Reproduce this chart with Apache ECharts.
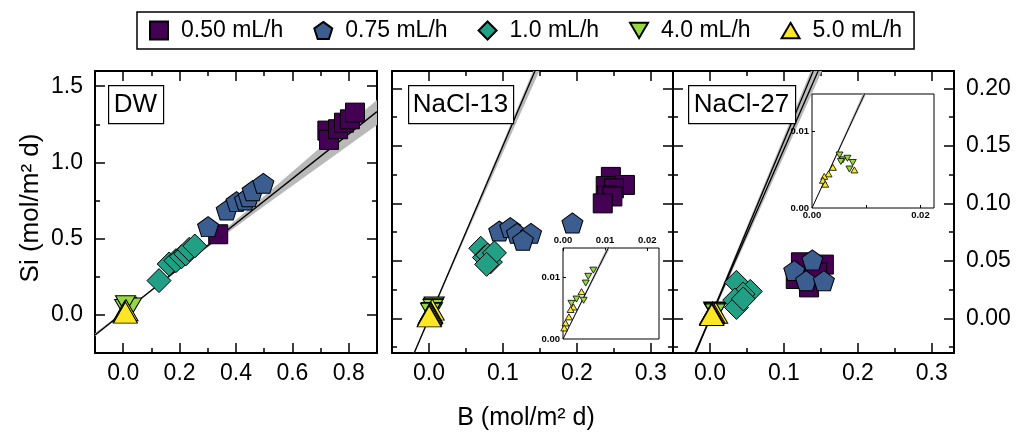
<!DOCTYPE html>
<html><head><meta charset="utf-8">
<script src="https://cdn.jsdelivr.net/npm/echarts@6/dist/echarts.min.js"></script>
<style>html,body{margin:0;padding:0;background:#fff}#c{width:1018px;height:435px}</style>
</head><body><div id="c"></div>
<script>
// ---------- data ----------
const seriesNames = ['0.50 mL/h', '0.75 mL/h', '1.0 mL/h', '4.0 mL/h', '5.0 mL/h'];
const panelNames = ['DW', 'NaCl-13', 'NaCl-27'];

// DW panel  [B, Si]
const dw050 = [[0.724,1.209],[0.730,1.148],[0.762,1.218],[0.783,1.261],[0.804,1.283],[0.822,1.327],[0.337,0.529]];
const dw075 = [[0.301,0.579],[0.367,0.688],[0.402,0.743],[0.432,0.754],[0.445,0.775],[0.459,0.815],[0.497,0.863]];
const dw100 = [[0.127,0.225],[0.163,0.334],[0.187,0.356],[0.207,0.382],[0.222,0.400],[0.234,0.430],[0.254,0.452]];
const dw400 = [[0.005,0.045],[0.012,0.060],[0.020,0.050],[0.030,0.055],[0.008,0.070]];
const dw500 = [[0.005,0.022],[0.010,0.030],[0.008,0.015]];

// NaCl-13 panel
const n13_050 = [[0.246,0.123],[0.265,0.116],[0.239,0.115],[0.250,0.113],[0.241,0.107],[0.248,0.106],[0.235,0.100]];
const n13_075 = [[0.095,0.076],[0.110,0.079],[0.119,0.074],[0.138,0.074],[0.127,0.068],[0.194,0.083]];
const n13_100 = [[0.070,0.061],[0.075,0.053],[0.0795,0.055],[0.083,0.049],[0.0885,0.057],[0.078,0.047]];
const n13_400 = [[0.0072,0.0112],[0.0060,0.0102],[0.0054,0.0091],[0.0049,0.0063],[0.0032,0.0065],[0.0020,0.0058]];
const n13_500 = [[0.0044,0.0077],[0.0025,0.0052],[0.0018,0.0048],[0.0014,0.0036],[0.0006,0.0026],[0.0003,0.0018]];

// NaCl-27 panel
const n27_050 = [[0.123,0.0488],[0.154,0.0468],[0.134,0.027],[0.116,0.0343],[0.145,0.040]];
const n27_075 = [[0.114,0.0416],[0.1385,0.0509],[0.130,0.0328],[0.154,0.0328]];
const n27_100 = [[0.0358,0.0314],[0.0545,0.0235],[0.0447,0.0212],[0.0335,0.016],[0.0358,0.0096],[0.045,0.017]];
const n27_400 = [[0.00507,0.00688],[0.00569,0.00625],[0.00654,0.00646],[0.00532,0.00604],[0.00752,0.00591],[0.0069,0.00506]];
const n27_500 = [[0.00782,0.00494],[0.00385,0.00528],[0.00305,0.00443],[0.00226,0.0041],[0.00202,0.0036],[0.00244,0.00309]];

// regression lines and confidence bands
const p1Line = [[-0.1,-0.1315],[0.9,1.3335]];
const p1BandX = [-0.1, 0.1, 0.3, 0.5, 0.7, 0.9];
const p1BandLo = [-0.142, 0.157, 0.442, 0.715, 0.980, 1.245];
const p1BandHi = [-0.120, 0.166, 0.467, 0.780, 1.100, 1.410];

const p2Line = [[-0.03,-0.045],[0.16,0.240]];
const p2BandX = [-0.03, 0.05, 0.16];
const p2BandLo = [-0.0458, 0.0720, 0.2304];
const p2BandHi = [-0.0432, 0.0764, 0.2445];

const p3LineA = [[-0.03,-0.0462],[0.16,0.2464]];
const p3LineB = [[-0.03,-0.0441],[0.16,0.2352]];
const p3BandX = [-0.03, 0.16];
const p3BandALo = [-0.0473, 0.2400];
const p3BandAHi = [-0.0450, 0.2520];
const p3BandBLo = [-0.0450, 0.2272];
const p3BandBHi = [-0.0426, 0.2400];

const in2Line = [[0,0],[0.0125,0.0172]];
const in2BandX = [0, 0.0125];
const in2BandLo = [0, 0.0166];
const in2BandHi = [0, 0.0179];

const in3Line = [[0,0],[0.0110,0.0168]];
const in3BandX = [0, 0.0110];
const in3BandLo = [0, 0.0163];
const in3BandHi = [0, 0.0174];

// axis ranges and ticks
const p1XRange = [-0.1, 0.9], p1YRange = [-0.25, 1.6];
const p1XMajor = [0, 0.2, 0.4, 0.6, 0.8], p1XMinor = [0.1, 0.3, 0.5, 0.7];
const p1YMajor = [0, 0.5, 1.0, 1.5], p1YMinor = [0.25, 0.75, 1.25];
const p23XRange = [-0.05, 0.33], p23YRange = [-0.03, 0.215];
const p23XMajor = [0, 0.1, 0.2, 0.3], p23XMinor = [0.05, 0.15, 0.25];
const p23YMajor = [0, 0.05, 0.10, 0.15, 0.20], p23YMinor = [-0.025, 0.025, 0.075, 0.125, 0.175];
const in2XRange = [0, 0.0228], in2YRange = [0, 0.0148];
const in3XRange = [0, 0.0225], in3YRange = [0, 0.0148];
const in2XLabels = [0, 0.01, 0.02], in2YLabels = [0, 0.01];
const in3XLabels = [0, 0.02], in3XTicks = [0.01, 0.02], in3YLabels = [0, 0.01];

// ---------- styling ----------
const FONT = '"Liberation Sans", Arial, Helvetica, sans-serif';
const colors = ['#440154', '#3b5d90', '#22a085', '#95d840', '#fde725'];
const PENT = 'path://M10,0 L19.5,6.9 L15.9,18.1 L4.1,18.1 L0.5,6.9 Z';
const DTRI = 'path://M0,0 L20,0 L10,17 Z';
const UTRI = 'path://M10,0 L20,17 L0,17 Z';
const symbols = ['rect', PENT, 'diamond', DTRI, UTRI];
const bigSizes = [19, [21, 20], [24, 24], [20, 17], [24, 21]];
const smallSizes = [6, 6, 6, [7, 6], [7, 6]];

const grids = [
  {left: 95, top: 71, width: 282, height: 282},
  {left: 392, top: 71, width: 281, height: 282},
  {left: 673, top: 71, width: 281, height: 282},
  {left: 563, top: 248, width: 96, height: 91, show: true, backgroundColor: '#fff', borderColor: '#000', borderWidth: 1, z: 5},
  {left: 812, top: 94, width: 122, height: 114, show: true, backgroundColor: '#fff', borderColor: '#000', borderWidth: 1, z: 5}
];

const xAxes = [], yAxes = [];
function ax(list, grid, pos, range, ticks, len, labels, fmt, lineW, extra) {
  const a = {
    type: 'value', gridIndex: grid, position: pos, min: range[0], max: range[1],
    axisLine: {show: lineW > 0, onZero: false, lineStyle: {color: '#000', width: lineW || 1}},
    axisTick: {show: !!ticks, inside: true, length: len, customValues: ticks || undefined, lineStyle: {color: '#000', width: 1.5}},
    axisLabel: labels ? {show: true, customValues: labels, formatter: fmt, color: '#000', fontFamily: FONT, fontSize: 23, margin: 10} : {show: false},
    splitLine: {show: false}
  };
  if (extra) {
    if (extra.label) Object.assign(a.axisLabel, extra.label);
    if (extra.tick) Object.assign(a.axisTick, extra.tick);
    if (extra.z != null) a.z = extra.z;
  }
  list.push(a);
  return list.length - 1;
}
const f1 = v => v.toFixed(1), f2 = v => v.toFixed(2);

// main panels: returns indices of primary (bottom / left) axes
const mainIdx = [];
for (let g = 0; g < 3; g++) {
  const xr = g === 0 ? p1XRange : p23XRange, yr = g === 0 ? p1YRange : p23YRange;
  const xM = g === 0 ? p1XMajor : p23XMajor, xm = g === 0 ? p1XMinor : p23XMinor;
  const yM = g === 0 ? p1YMajor : p23YMajor, ym = g === 0 ? p1YMinor : p23YMinor;
  const xi = ax(xAxes, g, 'bottom', xr, xM, 10, xM, f1, 2, {label: {margin: 9}});
  ax(xAxes, g, 'bottom', xr, xm, 5, null, null, 0);
  ax(xAxes, g, 'top', xr, xM, 10, null, null, 2);
  ax(xAxes, g, 'top', xr, xm, 5, null, null, 0);
  const yi = ax(yAxes, g, 'left', yr, yM, 10, g === 0 ? yM : null, f1, 2, {label: {margin: 12}});
  ax(yAxes, g, 'left', yr, ym, 5, null, null, 0);
  ax(yAxes, g, 'right', yr, yM, 10, g === 2 ? yM : null, f2, 2, {label: {margin: 12}});
  ax(yAxes, g, 'right', yr, ym, 5, null, null, 0);
  mainIdx.push([xi, yi]);
}
// insets
const smallLbl = {fontSize: 9.5, fontWeight: 'bold', margin: 3};
const in2x = ax(xAxes, 3, 'top', in2XRange, in2XLabels, 3, in2XLabels, f2, 0, {label: smallLbl, tick: {lineStyle: {width: 1}}, z: 6});
const in2y = ax(yAxes, 3, 'left', in2YRange, [0.01], 3, in2YLabels, f2, 0, {label: smallLbl, tick: {lineStyle: {width: 1}}, z: 6});
const in3x = ax(xAxes, 4, 'bottom', in3XRange, in3XTicks, 3, in3XLabels, f2, 0, {label: Object.assign({}, smallLbl, {margin: 2}), tick: {lineStyle: {width: 1}}, z: 6});
const in3y = ax(yAxes, 4, 'left', in3YRange, [0.01], 3, in3YLabels, f2, 0, {label: smallLbl, tick: {lineStyle: {width: 1}}, z: 6});

// ---------- series ----------
const series = [];
function scatter(data, k, xi, yi, small) {
  series.push({
    type: 'scatter', name: seriesNames[k], data: data, xAxisIndex: xi, yAxisIndex: yi,
    symbol: symbols[k], symbolSize: small ? smallSizes[k] : bigSizes[k],
    itemStyle: {color: colors[k], borderColor: '#000', borderWidth: small ? 0.8 : 1, opacity: 1},
    z: small ? 9 : 4, silent: true, clip: true
  });
}
function line(data, xi, yi, z, w) {
  series.push({type: 'line', data: data, xAxisIndex: xi, yAxisIndex: yi, symbol: 'none', showSymbol: false,
    lineStyle: {color: '#000', width: w || 1.3}, silent: true, clip: true, z: z, animation: false});
}
function band(xs, lo, hi, xi, yi, z) {
  series.push({type: 'custom', xAxisIndex: xi, yAxisIndex: yi, clip: true, silent: true, z: z,
    data: [[xs[0], lo[0]]],
    renderItem: function (params, api) {
      const top = xs.map((x, i) => api.coord([x, hi[i]]));
      const bot = xs.map((x, i) => api.coord([x, lo[i]])).reverse();
      return {type: 'polygon', shape: {points: top.concat(bot)}, style: {fill: '#b9b9b9', stroke: null}};
    }});
}
// panel 1
band(p1BandX, p1BandLo, p1BandHi, mainIdx[0][0], mainIdx[0][1], 1);
line(p1Line, mainIdx[0][0], mainIdx[0][1], 2);
[dw050, dw075, dw100, dw400, dw500].forEach((d, k) => scatter(d, k, mainIdx[0][0], mainIdx[0][1]));
// panel 2
band(p2BandX, p2BandLo, p2BandHi, mainIdx[1][0], mainIdx[1][1], 1);
line(p2Line, mainIdx[1][0], mainIdx[1][1], 2);
[n13_050, n13_075, n13_100, n13_400, n13_500].forEach((d, k) => scatter(d, k, mainIdx[1][0], mainIdx[1][1]));
// panel 3
band(p3BandX, p3BandALo, p3BandAHi, mainIdx[2][0], mainIdx[2][1], 1);
band(p3BandX, p3BandBLo, p3BandBHi, mainIdx[2][0], mainIdx[2][1], 1);
line(p3LineA, mainIdx[2][0], mainIdx[2][1], 2);
line(p3LineB, mainIdx[2][0], mainIdx[2][1], 2);
[n27_050, n27_075, n27_100, n27_400, n27_500].forEach((d, k) => scatter(d, k, mainIdx[2][0], mainIdx[2][1]));
// inset 2
band(in2BandX, in2BandLo, in2BandHi, in2x, in2y, 7);
line(in2Line, in2x, in2y, 8, 1);
scatter(n13_400, 3, in2x, in2y, true);
scatter(n13_500, 4, in2x, in2y, true);
// inset 3
band(in3BandX, in3BandLo, in3BandHi, in3x, in3y, 7);
line(in3Line, in3x, in3y, 8, 1);
scatter(n27_400, 3, in3x, in3y, true);
scatter(n27_500, 4, in3x, in3y, true);

// ---------- graphics (titles, panel labels) ----------
const labelBoxes = [[108, 85, 55, 38], [408, 85, 105, 38], [688, 85, 107, 38]];
const graphic = [];
panelNames.forEach((t, i) => {
  const b = labelBoxes[i];
  graphic.push({type: 'rect', left: b[0], top: b[1], z: 20, shape: {width: b[2], height: b[3]},
    style: {fill: '#fff', stroke: '#000', lineWidth: 1.2}});
  graphic.push({type: 'text', x: b[0] + b[2] / 2, y: b[1] + b[3] / 2 + 1, z: 21,
    style: {text: t, fill: '#000', font: '26px ' + FONT, textAlign: 'center', textVerticalAlign: 'middle'}});
});
graphic.push({type: 'text', x: 526, y: 418, z: 20,
  style: {text: 'B (mol/m² d)', fill: '#000', font: '25px ' + FONT, textAlign: 'center', textVerticalAlign: 'middle'}});
graphic.push({type: 'text', x: 31, y: 208, rotation: Math.PI / 2, z: 20,
  style: {text: 'Si (mol/m² d)', fill: '#000', font: '26px ' + FONT, textAlign: 'center', textVerticalAlign: 'middle'}});

const chart = echarts.init(document.getElementById('c'), null, {renderer: 'canvas'});
chart.setOption({
  animation: false,
  backgroundColor: '#fff',
  grid: grids,
  xAxis: xAxes,
  yAxis: yAxes,
  legend: {
    data: seriesNames, left: 137, top: 12, orient: 'horizontal', selectedMode: false,
    itemWidth: 18, itemHeight: 18, itemGap: 30, padding: [7, 12, 7, 12],
    borderColor: '#000', borderWidth: 1.5,
    textStyle: {fontSize: 23, fontFamily: FONT, color: '#000', padding: [0, 0, 0, 8]}
  },
  graphic: graphic,
  series: series
});
</script>
</body></html>
